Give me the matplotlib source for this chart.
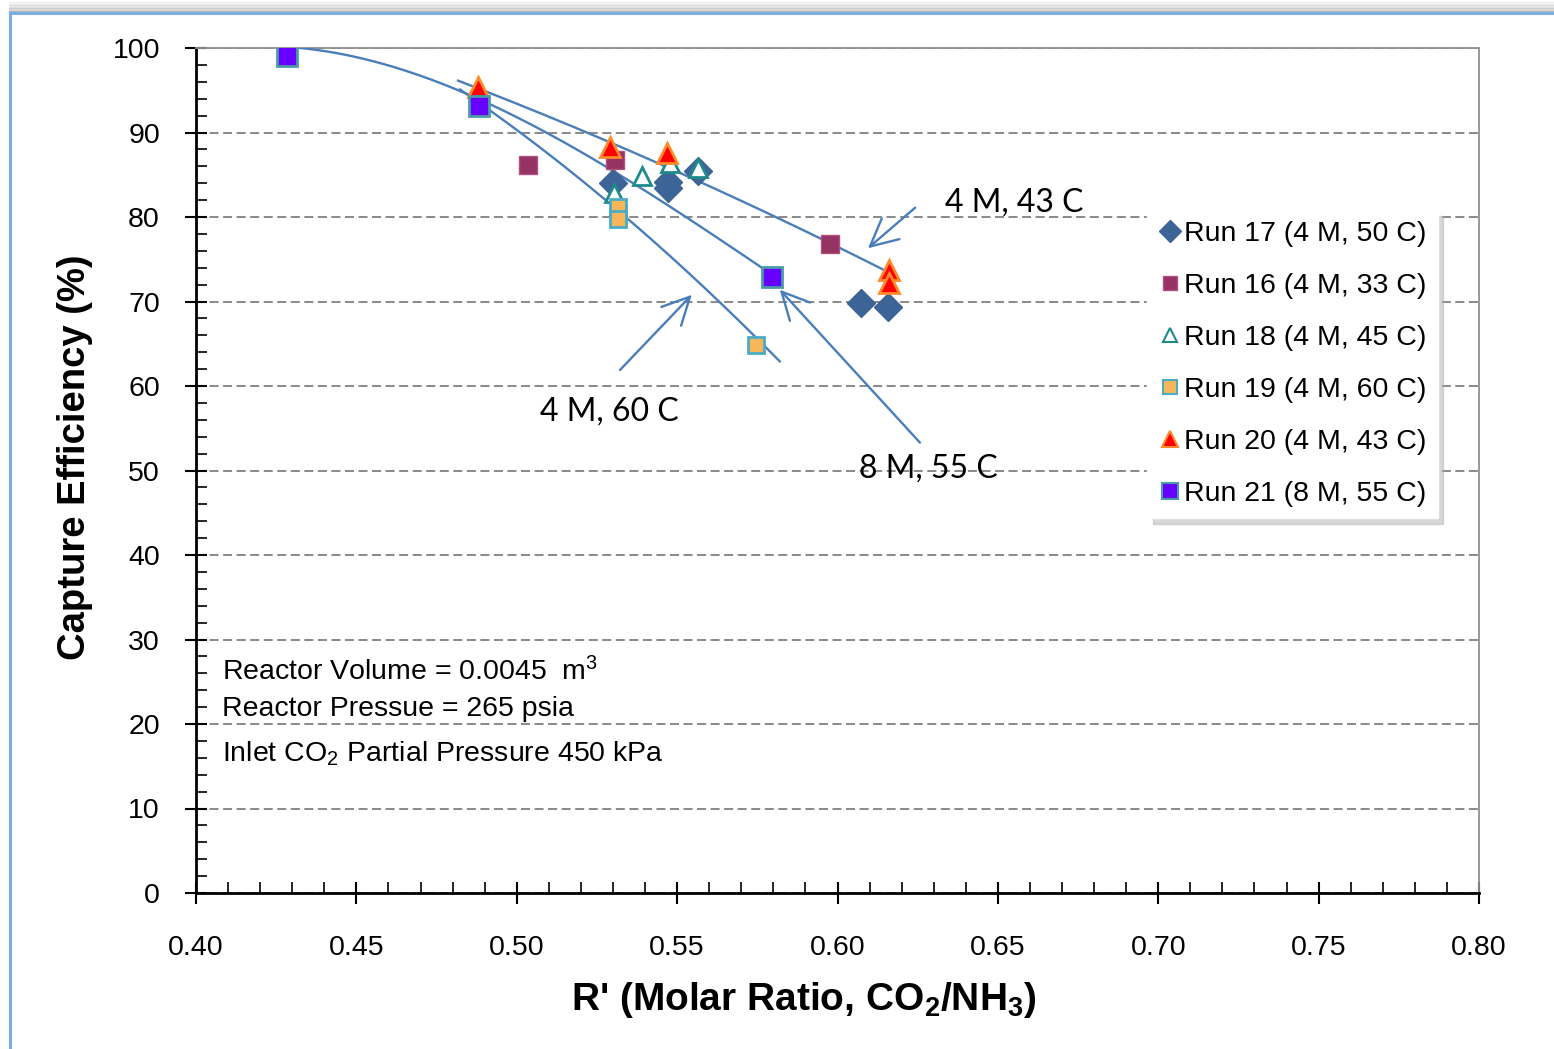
import matplotlib.pyplot as plt
import numpy as np
from matplotlib.lines import Line2D
from matplotlib.ticker import MultipleLocator, FormatStrFormatter

plt.rcParams['font.family'] = ['Liberation Sans', 'DejaVu Sans']
plt.rcParams['mathtext.fontset'] = 'custom'
plt.rcParams['mathtext.rm'] = 'Liberation Sans'
plt.rcParams['mathtext.bf'] = 'Liberation Sans:bold'
plt.rcParams['mathtext.it'] = 'Liberation Sans:italic'

# measured data (R', capture efficiency %)
run17_x = [0.530, 0.547, 0.547, 0.5565, 0.6073, 0.6157]
run17_y = [84.0, 84.2, 83.4, 85.4, 69.8, 69.4]
run16_x = [0.5035, 0.5306, 0.5976]
run16_y = [86.2, 86.7, 76.8]
run18_x = [0.5303, 0.5389, 0.5478, 0.5565]
run18_y = [82.8, 84.9, 86.4, 85.8]
run19_x = [0.5316, 0.5316, 0.5746]
run19_y = [81.2, 79.8, 64.9]
run20_x = [0.4878, 0.5290, 0.5468, 0.6160, 0.6160]
run20_y = [95.4, 88.3, 87.6, 73.7, 72.2]
run21_x = [0.4284, 0.4882, 0.5796]
run21_y = [99.05, 93.1, 72.9]

# trend lines
trend_8m_x = [0.4284, 0.4574, 0.4823, 0.5135, 0.5593, 0.5796]
trend_8m_y = [100.0, 98.6, 94.7, 88.9, 78.7, 73.0]
trend_60_x = [0.4823, 0.5135, 0.5315, 0.5674, 0.5820]
trend_60_y = [95.0, 86.5, 81.0, 67.8, 63.3]
trend_43_x = [0.4817, 0.5206, 0.5633, 0.6179]
trend_43_y = [96.1, 90.3, 83.0, 73.1]

labels = ["Run 17 (4 M, 50 C)", "Run 16 (4 M, 33 C)", "Run 18 (4 M, 45 C)",
          "Run 19 (4 M, 60 C)", "Run 20 (4 M, 43 C)", "Run 21 (8 M, 55 C)"]

fig = plt.figure(figsize=(15.54, 10.49), dpi=100)
ax = fig.add_axes([196 / 1554, 1 - 893 / 1049, 1283 / 1554, 845 / 1049])

line_c = '#4a7ebb'
for tx, ty, deg in [(trend_8m_x, trend_8m_y, 3), (trend_60_x, trend_60_y, 2),
                    (trend_43_x, trend_43_y, 2)]:
    p = np.polyfit(tx, ty, deg)
    xs = np.linspace(tx[0], tx[-1], 200)
    ax.plot(xs, np.polyval(p, xs), color=line_c, lw=1.7, zorder=3)

styles = [
    (run17_x, run17_y, dict(marker='D', ms=14, mfc='#3d6496', mec='#3d6496', mew=1)),
    (run16_x, run16_y, dict(marker='s', ms=13, mfc='#953462', mec='#b05080', mew=1)),
    (run18_x, run18_y, dict(marker='^', ms=13, mfc='white', mec='#1f8a8a', mew=2)),
    (run19_x, run19_y, dict(marker='s', ms=12, mfc='#f8b65a', mec='#4bacc6', mew=2)),
    (run20_x, run20_y, dict(marker='^', ms=15, mfc='#ff0000', mec='#ff8a2a', mew=2)),
    (run21_x, run21_y, dict(marker='s', ms=14, mfc='#6600ff', mec='#4a9aa8', mew=2)),
]
handles = []
for (x, y, st), lab in zip(styles, labels):
    ax.plot(x, y, ls='none', zorder=4, **st)
    hs = dict(st)
    hs['ms'] = st['ms'] * 0.8
    hs['mew'] = min(st['mew'], 1.5)
    handles.append(Line2D([], [], ls='none', label=lab, **hs))

ax.set_xlim(0.40, 0.80)
ax.set_ylim(0, 100)
ax.xaxis.set_major_locator(MultipleLocator(0.05))
ax.xaxis.set_minor_locator(MultipleLocator(0.01))
ax.xaxis.set_major_formatter(FormatStrFormatter('%.2f'))
ax.yaxis.set_major_locator(MultipleLocator(10))
ax.yaxis.set_minor_locator(MultipleLocator(2))
ax.tick_params(which='major', direction='inout', length=16, width=1.5, labelsize=20.5)
ax.tick_params(which='minor', direction='in', length=8, width=1.2)
ax.tick_params(axis='y', which='major', pad=18)
ax.tick_params(axis='x', which='major', pad=22)
ax.grid(axis='y', which='major', color='#808080', ls=(0, (5, 2.5)), lw=1.3)
for s in ['left', 'bottom']:
    ax.spines[s].set_linewidth(2)
    ax.spines[s].set_color('black')
for s in ['top', 'right']:
    ax.spines[s].set_linewidth(1.3)
    ax.spines[s].set_color('#909090')

# labels
fig.text(75 / 1554, 1 - 457 / 1049, 'Capture Efficiency (%)', rotation=90,
         ha='center', va='center', fontsize=27.5, fontweight='bold')
fig.text(804 / 1554, 1 - 1000 / 1049,
         r"R' (Molar Ratio, CO$_\mathbf{2}$/NH$_\mathbf{3}$)",
         ha='center', va='center', fontsize=28, fontweight='bold')

# condition notes
ax.text(0.4081, 25.2, r'Reactor Volume = 0.0045  m$^3$', fontsize=20.5, va='baseline')
ax.text(0.4081, 20.95, 'Reactor Pressue = 265 psia', fontsize=20.5, va='baseline')
ax.text(0.4081, 15.6, r'Inlet CO$_2$ Partial Pressure 450 kPa', fontsize=20.5, va='baseline')

# curve annotations
ann_font = dict(fontsize=23, family=['Lato', 'DejaVu Sans'], ha='center', va='baseline')
ax.text(0.6551, 80.6, '4 M, 43 C', **ann_font)
ax.text(0.5290, 55.9, '4 M, 60 C', **ann_font)
ax.text(0.6282, 49.2, '8 M, 55 C', **ann_font)
arrow = dict(arrowstyle='->,head_length=0.7,head_width=0.35', color=line_c, lw=1.7,
             mutation_scale=28, shrinkA=0, shrinkB=0)
ax.annotate('', xy=(0.6095, 76.3), xytext=(0.6242, 81.1), arrowprops=arrow)
ax.annotate('', xy=(0.5546, 70.8), xytext=(0.5322, 61.9), arrowprops=arrow)
ax.annotate('', xy=(0.5820, 71.4), xytext=(0.6257, 53.3), arrowprops=arrow)

leg = ax.legend(handles=handles, loc='upper left',
                bbox_to_anchor=(1147 / 1554, 1 - 210 / 1049),
                bbox_transform=fig.transFigure, fontsize=20.5, frameon=True,
                fancybox=False, handlelength=0.8, handletextpad=0.1,
                labelspacing=0.91, borderpad=0.4, borderaxespad=0,
                shadow={'ox': 4, 'oy': -4, 'color': '#b0b0b0'})
leg.get_frame().set_edgecolor('white')
leg.get_frame().set_facecolor('white')
leg.get_frame().set_alpha(1)

# outer chart frame with top shadow
for i, a in enumerate(np.linspace(0.35, 0.03, 8)):
    fig.add_artist(Line2D([10 / 1554, 1], [1 - (12 - i * 1.5) / 1049] * 2,
                          transform=fig.transFigure, color='gray', alpha=a, lw=1.5))
fig.add_artist(Line2D([10 / 1554, 1], [1 - 13 / 1049] * 2, transform=fig.transFigure,
                      color='#7aaee0', lw=2.2))
fig.add_artist(Line2D([10 / 1554, 10 / 1554], [0, 1 - 13 / 1049], transform=fig.transFigure,
                      color='#7aaee0', lw=2.2))

fig.savefig('out.png', dpi=100)
